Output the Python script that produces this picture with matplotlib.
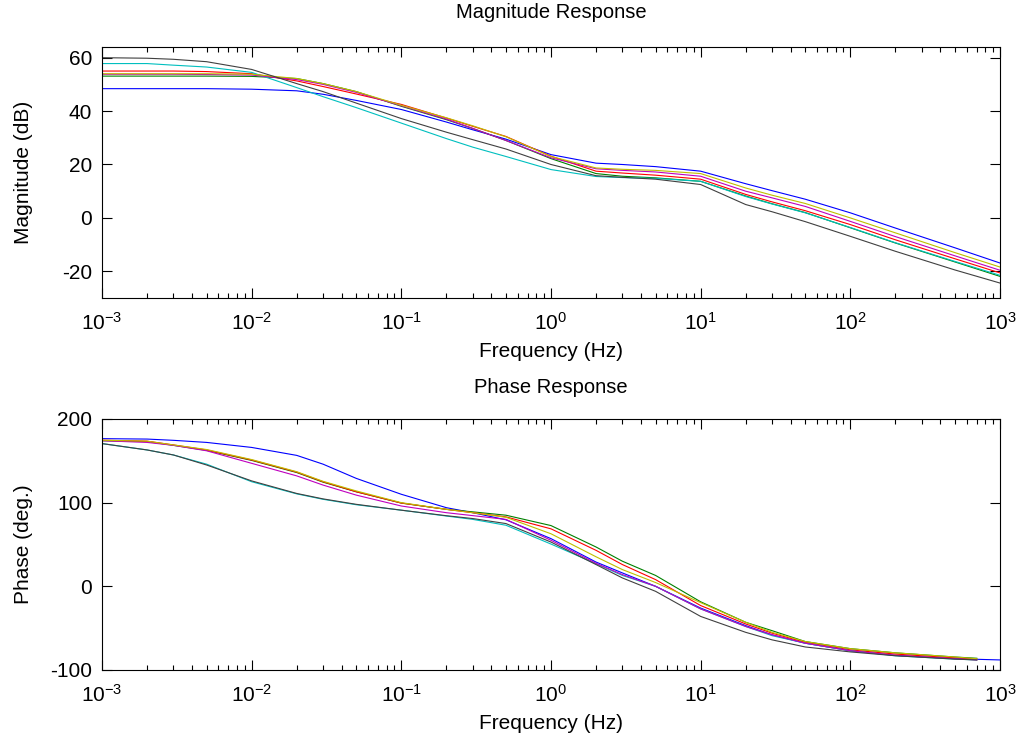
import numpy as np
import matplotlib
matplotlib.use('Agg')
import matplotlib.pyplot as plt
from matplotlib.ticker import FixedLocator, NullFormatter, LogFormatterSciNotation

plt.rcParams['font.family'] = ['Liberation Sans', 'DejaVu Sans']
plt.rcParams['mathtext.fontset'] = 'custom'
plt.rcParams['mathtext.rm'] = 'Liberation Sans'
plt.rcParams['mathtext.it'] = 'Liberation Sans'
plt.rcParams['axes.unicode_minus'] = False

# frequency points (Hz)
freq = [0.001, 0.002, 0.003, 0.005, 0.01, 0.02, 0.03, 0.05, 0.1, 0.2, 0.3, 0.5,
        1, 2, 3, 5, 10, 20, 30, 50, 100, 200, 500, 1000]
freq_ph = freq[:-1] + [700]   # most phase traces stop short of 1 kHz

# magnitude (dB)
mag_b = [48.4, 48.4, 48.4, 48.4, 48.2, 47.6, 46.3, 44.0, 40.6, 35.9, 33.0, 29.5,
         23.7, 20.5, 20.0, 19.2, 17.5, 12.8, 10.2, 7.0, 1.9, -3.8, -11.2, -16.9]
mag_g = [53.1, 53.1, 53.1, 53.1, 53.0, 52.2, 50.3, 47.3, 41.8, 36.8, 33.5, 29.0,
         22.2, 16.6, 15.6, 15.0, 13.7, 8.2, 5.3, 2.0, -3.7, -9.4, -16.5, -21.9]
mag_r = [55.0, 55.0, 55.0, 54.8, 54.0, 51.3, 49.2, 46.4, 42.5, 37.4, 34.3, 30.5,
         23.1, 17.5, 16.8, 16.0, 14.5, 8.8, 6.0, 2.7, -2.5, -8.2, -15.3, -20.6]
mag_c = [57.8, 57.8, 57.2, 56.5, 54.5, 48.8, 45.4, 41.3, 35.5, 29.7, 26.5, 23.0,
         18.1, 15.5, 15.1, 14.8, 13.7, 8.0, 5.2, 1.9, -3.6, -9.3, -16.3, -21.5]
mag_m = [53.8, 53.8, 53.8, 53.7, 53.5, 51.8, 50.0, 47.0, 42.0, 37.0, 33.5, 29.0,
         22.5, 18.4, 17.8, 17.2, 15.6, 10.0, 7.5, 4.3, -1.3, -7.0, -14.2, -19.6]
mag_y = [54.0, 54.0, 54.0, 54.0, 53.8, 52.2, 50.3, 47.3, 42.2, 37.5, 34.5, 30.4,
         23.0, 18.7, 18.2, 17.8, 16.6, 11.2, 8.5, 5.4, 0.0, -5.6, -13.0, -18.4]
mag_k = [60.0, 59.8, 59.4, 58.5, 55.6, 50.3, 47.3, 43.0, 37.2, 32.1, 29.3, 25.8,
         20.0, 15.8, 15.2, 14.5, 12.5, 5.0, 2.3, -1.4, -6.9, -12.5, -19.5, -24.4]

# phase (deg.)
ph_b = [176.5, 176.0, 174.5, 172.0, 166.0, 156.5, 146.0, 129.0, 110.0, 94.0, 88.0, 79.5,
        57.0, 29.0, 16.0, 0.0, -26.0, -47.0, -58.0, -68.0, -77.0, -82.5, -86.5, -88.0]
ph_g = [174.0, 173.0, 168.5, 162.5, 150.5, 136.0, 124.5, 113.0, 99.5, 92.0, 89.0, 85.0,
        72.6, 47.0, 30.0, 13.0, -18.5, -43.0, -53.0, -66.0, -74.5, -79.5, -84.5, -86.0]
ph_r = [174.6, 173.5, 169.0, 163.0, 151.0, 136.5, 125.0, 113.0, 99.5, 92.0, 88.0, 83.0,
        68.7, 43.0, 26.0, 8.0, -23.0, -45.0, -56.0, -67.0, -76.0, -81.0, -85.5, -87.5]
ph_c = [170.6, 163.0, 157.0, 146.0, 125.0, 110.5, 104.0, 97.5, 91.0, 84.0, 80.0, 73.0,
        50.5, 27.0, 13.0, 0.0, -27.0, -48.0, -59.0, -68.0, -77.0, -83.0, -87.0, -88.0]
ph_m = [174.0, 172.0, 168.5, 162.0, 147.0, 132.0, 121.0, 109.0, 96.0, 88.0, 84.5, 80.0,
        55.0, 27.5, 14.0, 0.0, -27.0, -48.0, -58.0, -68.0, -77.0, -82.5, -86.5, -88.0]
ph_y = [174.6, 173.5, 169.0, 163.5, 151.5, 137.0, 125.5, 114.0, 100.0, 92.0, 88.0, 82.5,
        62.8, 35.3, 20.0, 4.5, -19.5, -43.0, -55.0, -66.0, -74.5, -79.5, -84.5, -86.5]
ph_k = [170.6, 163.0, 157.0, 145.0, 126.0, 111.0, 104.5, 98.0, 91.0, 84.4, 81.0, 75.0,
        52.9, 26.0, 10.0, -6.0, -36.0, -55.0, -64.0, -72.5, -78.4, -83.0, -87.0, -88.0]

colors = ['#0000ff', '#008000', '#ff0000', '#00bfbf', '#bf00bf', '#bfbf00', '#404040']
mags = [mag_b, mag_g, mag_r, mag_c, mag_m, mag_y, mag_k]
phases = [ph_b, ph_g, ph_r, ph_c, ph_m, ph_y, ph_k]

fig = plt.figure(figsize=(10.23, 7.45), dpi=100)
ax1 = fig.add_axes([0.0997, 0.600, 0.8778, 0.3369])
ax2 = fig.add_axes([0.0997, 0.1007, 0.8778, 0.3369])

for c, m in zip(colors, mags):
    ax1.semilogx(freq, m, color=c, linewidth=0.8)
for i, (c, p) in enumerate(zip(colors, phases)):
    f = freq if i == 0 else freq_ph
    ax2.semilogx(f, p, color=c, linewidth=0.8)

major = [10.0 ** k for k in range(-3, 4)]
minor = [m * 10.0 ** k for k in range(-3, 3) for m in range(2, 10)]

def style(ax, ylim, yticks, ylabel, title, title_pad):
    ax.set_xlim(1e-3, 1e3)
    ax.set_ylim(*ylim)
    ax.set_yticks(yticks)
    ax.xaxis.set_major_locator(FixedLocator(major))
    ax.xaxis.set_major_formatter(LogFormatterSciNotation())
    ax.xaxis.set_minor_locator(FixedLocator(minor))
    ax.xaxis.set_minor_formatter(NullFormatter())
    ax.tick_params(which='both', direction='in', top=True, right=True,
                   labelsize=15, width=0.8, colors='black')
    ax.tick_params(which='major', length=7)
    ax.tick_params(which='minor', length=3.5)
    ax.tick_params(axis='x', pad=10)
    ax.tick_params(axis='y', pad=7)
    for s in ax.spines.values():
        s.set_linewidth(0.8)
    ax.set_xlabel('Frequency (Hz)', fontsize=15)
    ax.xaxis.set_label_coords(0.5, -0.175)
    ax.set_ylabel(ylabel, fontsize=15)
    ax.yaxis.set_label_coords(-0.077, 0.5)
    ax.set_title(title, fontsize=14.5, pad=title_pad)

style(ax1, (-30, 64), [-20, 0, 20, 40, 60], 'Magnitude (dB)', 'Magnitude Response', 21)
style(ax2, (-100, 200), [-100, 0, 100, 200], 'Phase (deg.)', 'Phase Response', 19)

fig.savefig('out.png', dpi=100, facecolor='white')
